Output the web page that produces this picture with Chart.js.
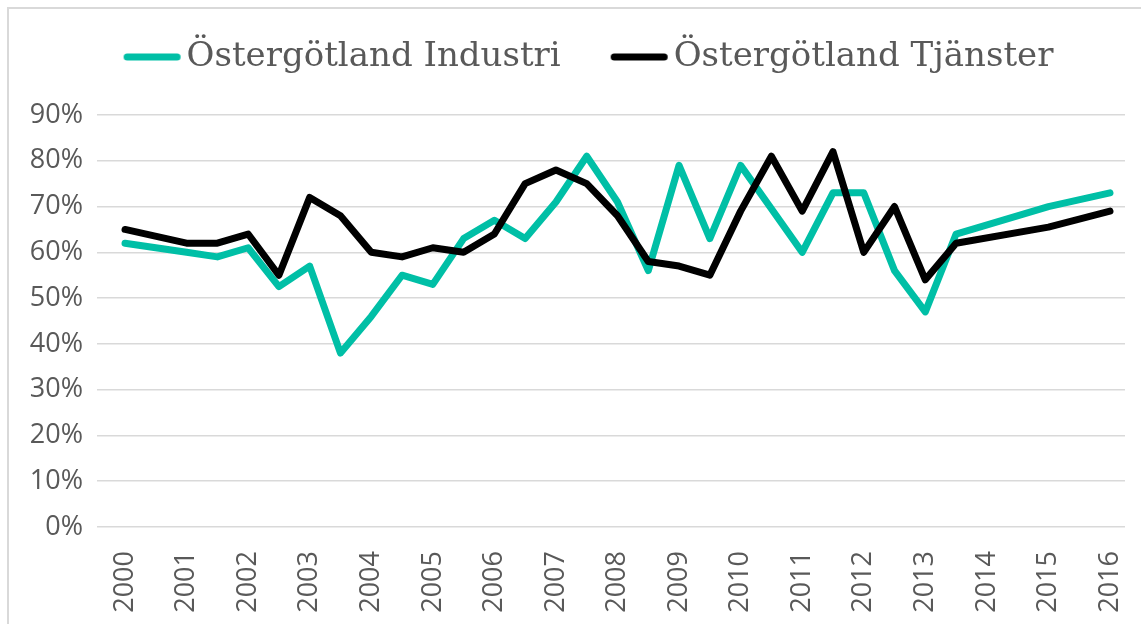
<!DOCTYPE html>
<html>
<head>
<meta charset="utf-8">
<script src="https://cdn.jsdelivr.net/npm/chart.js@4.4.1/dist/chart.umd.min.js"></script>
<style>
  html, body { margin: 0; padding: 0; background: #fff; overflow: hidden; }
  #chart { display: block; }
</style>
</head>
<body>
<canvas id="chart" width="1141" height="624"></canvas>
<script>
// half-year readings, 2000 - 2016
const periods = [2000, 2001, 2001.5, 2002, 2002.5, 2003, 2003.5, 2004, 2004.5, 2005, 2005.5,
  2006, 2006.5, 2007, 2007.5, 2008, 2008.5, 2009, 2009.5, 2010, 2010.5, 2011, 2011.5,
  2012, 2012.5, 2013, 2013.5, 2015, 2016];
const industri = [62, 60, 59, 61, 52.5, 57, 38, 46, 55, 53, 63,
  67, 63, 71, 81, 71, 56, 79, 63, 79, 69.5, 60, 73,
  73, 56, 47, 64, 70, 73];
const tjanster = [65, 62, 62, 64, 55, 72, 68, 60, 59, 61, 60,
  64, 75, 78, 75, 68, 58, 57, 55, 69, 81, 69, 82,
  60, 70, 54, 62, 65.5, 69];
const yearTicks = [2000, 2001, 2002, 2003, 2004, 2005, 2006, 2007, 2008,
  2009, 2010, 2011, 2012, 2013, 2014, 2015, 2016];

const toPoints = vals => vals.map((v, i) => ({ x: periods[i], y: v }));

const textGrey = '#595959';
const teal = '#00bfa6';

// legend swatch: a thick line that runs right up to the label text
function swatch(color) {
  const c = document.createElement('canvas');
  c.width = 84;
  c.height = 10;
  const ctx = c.getContext('2d');
  ctx.strokeStyle = color;
  ctx.lineWidth = 7;
  ctx.lineCap = 'round';
  ctx.beginPath();
  ctx.moveTo(27.5, 5);
  ctx.lineTo(77.5, 5);
  ctx.stroke();
  return c;
}

// fixed legend height so the plot starts where the original does,
// and legend centred a bit further right
const legendBox = {
  id: 'legendBox',
  beforeInit(chart) {
    const fit = chart.legend.fit;
    chart.legend.fit = function () {
      fit.call(chart.legend);
      this.height = 115;
    };
  },
  afterLayout(chart) {
    chart.legend.left = 42;
  }
};

// thin grey frame, only the top and left edges are inside the picture
const frame = {
  id: 'frame',
  afterDraw(chart) {
    const ctx = chart.ctx;
    ctx.save();
    ctx.strokeStyle = '#d9d9d9';
    ctx.lineWidth = 2;
    ctx.beginPath();
    ctx.moveTo(8, chart.height);
    ctx.lineTo(8, 8);
    ctx.lineTo(chart.width, 8);
    ctx.stroke();
    ctx.restore();
  }
};

new Chart(document.getElementById('chart'), {
  type: 'line',
  data: {
    datasets: [
      {
        label: 'Östergötland Industri',
        data: toPoints(industri),
        borderColor: teal,
        backgroundColor: teal,
        pointStyle: swatch(teal),
        borderWidth: 7,
        order: 1,
      },
      {
        label: 'Östergötland Tjänster',
        data: toPoints(tjanster),
        borderColor: '#000000',
        backgroundColor: '#000000',
        pointStyle: swatch('#000000'),
        borderWidth: 7,
        order: 0,
      },
    ],
  },
  options: {
    responsive: false,
    animation: false,
    layout: { padding: { left: 0, right: 16, top: 0, bottom: 0 } },
    elements: {
      point: { radius: 0 },
      line: { tension: 0, borderCapStyle: 'round', borderJoinStyle: 'round' },
    },
    plugins: {
      tooltip: { enabled: false },
      legend: {
        position: 'top',
        labels: {
          usePointStyle: true,
          pointStyleWidth: 56,
          padding: 40,
          color: textGrey,
          font: { family: "'DejaVu Serif'", size: 34 },
          sort: (a, b) => a.datasetIndex - b.datasetIndex,
        },
      },
    },
    scales: {
      x: {
        type: 'linear',
        min: 1999.545,
        max: 2016.244,
        grid: { display: false },
        border: { display: false },
        afterBuildTicks: scale => { scale.ticks = yearTicks.map(v => ({ value: v })); },
        afterFit: scale => {
          scale.height = 97;
          scale.paddingLeft = 0;
          scale.paddingRight = 0;
        },
        ticks: {
          autoSkip: false,
          minRotation: 90,
          maxRotation: 90,
          padding: 16,
          color: textGrey,
          font: { family: "'Open Sans'", size: 27 },
          callback: v => String(v),
        },
      },
      y: {
        min: 0,
        max: 90,
        grid: { color: '#d9d9d9', lineWidth: 1.5, drawTicks: false },
        border: { display: false },
        afterFit: scale => { scale.width = 97; },
        ticks: {
          stepSize: 10,
          padding: 14,
          color: textGrey,
          font: { family: "'Open Sans'", size: 27 },
          callback: v => v + '%',
        },
      },
    },
  },
  plugins: [legendBox, frame],
});
</script>
</body>
</html>
